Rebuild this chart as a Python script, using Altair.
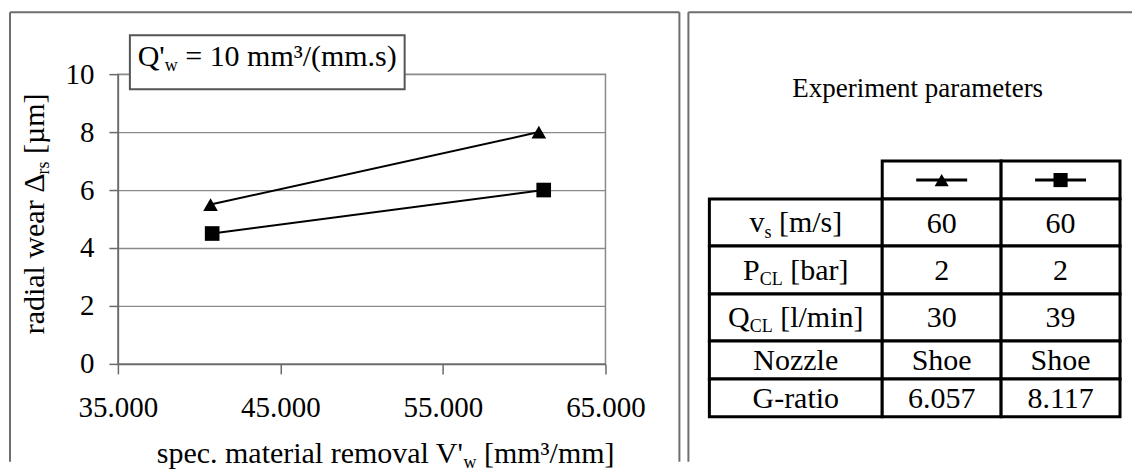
import altair as alt
import pandas as pd

# ---------------- data ----------------
series_names = ["triangle", "square"]
triangle_removal = [40700, 60900]
triangle_wear = [5.5, 8.0]
square_removal = [40800, 61200]
square_wear = [4.5, 6.0]

x_tick_values = [35000, 45000, 55000, 65000]
y_tick_values = [0, 2, 4, 6, 8, 10]

table_title = "Experiment parameters"
param_labels = [
    [("v", "n"), ("s", "sub"), (" [m/s]", "n")],
    [("P", "n"), ("CL", "sub"), (" [bar]", "n")],
    [("Q", "n"), ("CL", "sub"), (" [l/min]", "n")],
    [("Nozzle", "n")],
    [("G-ratio", "n")],
]
triangle_params = ["60", "2", "30", "Shoe", "6.057"]
square_params = ["60", "2", "39", "Shoe", "8.117"]

annotation_text = [("Q'", "n"), ("w", "sub"), (" = 10 mm³/(mm.s)", "n")]
x_title_text = [("spec. material removal V'", "n"), ("w", "sub"), (" [mm³/mm]", "n")]
y_title_text = [("radial wear Δ", "n"), ("rs", "sub"), (" [µm]", "n")]

# ---------------- style ----------------
FONT = "Liberation Serif"
PLOT_W, PLOT_H = 488, 290
GRID = "#8a8a8a"
AXIS = "#6a6a6a"
FRAME = "#6e6e6e"
COL_W = [173, 119, 119]
ROW_H = [38, 47, 48, 47, 38, 38]
TABLE_W = sum(COL_W)
TABLE_H = sum(ROW_H)
TABLE_OFF = 87  # table top sits this far below the chart's plot top

# Times / Liberation Serif advance widths (1/1000 em)
CHAR_W = {" ": 250, "'": 180, "(": 333, ")": 333, ".": 250, "/": 278, "-": 333,
          "=": 564, "[": 333, "]": 333, "µ": 500, "Δ": 612, "³": 300}
for d in "0123456789":
    CHAR_W[d] = 500
CHAR_W.update(dict(zip("abcdefghijklmnopqrstuvwxyz",
    [444, 500, 444, 500, 444, 333, 500, 500, 278, 278, 500, 278, 778, 500, 500,
     500, 500, 333, 389, 278, 500, 500, 722, 500, 500, 444])))
CHAR_W.update(dict(zip("ABCDEFGHIJKLMNOPQRSTUVWXYZ",
    [722, 667, 667, 722, 611, 556, 722, 722, 333, 389, 722, 611, 889, 722, 722,
     556, 722, 667, 556, 611, 722, 722, 944, 722, 722, 611])))


def text_width(s, size):
    return sum(CHAR_W.get(ch, 500) for ch in s) / 1000.0 * size


one = pd.DataFrame({"k": [0]})


def rich_text_layers(segments, size, data, x, y, angle=0):
    parts = []
    for txt, kind in segments:
        if kind == "sub":
            s, shift = size * 0.6, size * 0.17
        else:
            s, shift = size, 0.0
        parts.append((txt, s, shift, text_width(txt, s)))
    total = sum(p[3] for p in parts)
    off = -total / 2
    layers = []
    for txt, s, shift, w in parts:
        stripped = txt.lstrip(" ")
        lead = text_width(txt[: len(txt) - len(stripped)], s)
        layers.append(
            alt.Chart(data).mark_text(
                text=stripped, font=FONT, fontSize=s, align="left",
                baseline="alphabetic", dx=off + lead, dy=0.33 * size + shift,
                angle=angle, color="black",
            ).encode(x=x, y=y)
        )
        off += w
    return layers


def hrule(x1, x2, y, color, width):
    return alt.Chart(one).mark_rule(color=color, strokeWidth=width).encode(
        x=alt.value(x1), x2=alt.value(x2), y=alt.value(y))


def vrule(x, y1, y2, color, width):
    return alt.Chart(one).mark_rule(color=color, strokeWidth=width).encode(
        x=alt.value(x), y=alt.value(y1), y2=alt.value(y2))


# ---------------- left panel: wear chart ----------------
df = pd.DataFrame({
    "series": [series_names[0]] * len(triangle_removal) + [series_names[1]] * len(square_removal),
    "removal": triangle_removal + square_removal,
    "wear": triangle_wear + square_wear,
})

x_enc = alt.X("removal:Q",
              scale=alt.Scale(domain=[35000, 65000], nice=False, zero=False),
              axis=alt.Axis(values=x_tick_values, title=None, grid=False,
                            labelExpr="replace(format(datum.value, ','), ',', '.')",
                            labelFont=FONT, labelFontSize=29, labelColor="black",
                            labelPadding=20, labelFlush=False, labelOverlap=False,
                            tickSize=10, tickColor=AXIS, tickWidth=1.5,
                            domainColor=AXIS, domainWidth=1.5))
y_enc = alt.Y("wear:Q",
              scale=alt.Scale(domain=[0, 10], nice=False),
              axis=alt.Axis(values=y_tick_values, title=None, grid=True,
                            gridColor=GRID, gridWidth=1.3,
                            labelFont=FONT, labelFontSize=29, labelColor="black",
                            labelPadding=15, labelFlush=False, labelOverlap=False,
                            tickSize=9, tickColor=AXIS, tickWidth=1.5,
                            domainColor=AXIS, domainWidth=1.5))

lines = alt.Chart(df).mark_line(color="black", strokeWidth=2).encode(
    x=x_enc, y=y_enc, detail="series:N")
points = alt.Chart(df).mark_point(filled=True, color="black", opacity=1, size=215).encode(
    x=x_enc, y=y_enc,
    shape=alt.Shape("series:N", scale=alt.Scale(domain=series_names,
                                                range=["triangle-up", "square"]),
                    legend=None))

box = alt.Chart(one).mark_rect(fill="white", stroke="#555555", strokeWidth=2).encode(
    x=alt.value(12), x2=alt.value(287), y=alt.value(-39), y2=alt.value(15))

left_layers = [
    hrule(-108, 562, -62, FRAME, 2),
    vrule(-108, -62, 388, FRAME, 2),
    vrule(562, -62, 388, FRAME, 2),
    lines, points, box,
]
left_layers += rich_text_layers(annotation_text, 30, one, alt.value(149.5), alt.value(-18))
left_layers += rich_text_layers(x_title_text, 30, one, alt.value(268), alt.value(379))
left_layers += rich_text_layers(y_title_text, 30, one, alt.value(-84), alt.value(141), angle=270)

left = alt.layer(*left_layers).properties(
    width=PLOT_W, height=PLOT_H,
    view=alt.ViewBackground(stroke=GRID, strokeWidth=1.5))

# ---------------- right panel: parameter table ----------------
col_edges = [sum(COL_W[:i]) for i in range(len(COL_W) + 1)]
row_edges = [sum(ROW_H[:i]) for i in range(len(ROW_H) + 1)]
columns = [None, triangle_params, square_params]

cells = []
for r in range(len(ROW_H)):
    for c in range(3):
        if r == 0 and c == 0:
            continue
        val = ""
        if r > 0 and c > 0:
            val = columns[c][r - 1]
        cells.append(dict(r=r, c=c,
                          x0=col_edges[c], x1=col_edges[c + 1],
                          y0=row_edges[r], y1=row_edges[r + 1],
                          xc=(col_edges[c] + col_edges[c + 1]) / 2,
                          yc=(row_edges[r] + row_edges[r + 1]) / 2,
                          val=val,
                          series=series_names[c - 1] if (r == 0 and c > 0) else ""))
tdf = pd.DataFrame(cells)

tx = alt.Scale(domain=[0, TABLE_W], nice=False, zero=False)
ty = alt.Scale(domain=[-TABLE_OFF, TABLE_H], nice=False, zero=False, reverse=True)


def X(f):
    return alt.X(f, scale=tx, axis=None)


def Y(f):
    return alt.Y(f, scale=ty, axis=None)


rects = alt.Chart(tdf).mark_rect(fill="white", stroke="black", strokeWidth=3).encode(
    x=X("x0:Q"), x2="x1:Q", y=Y("y0:Q"), y2="y1:Q")

values = alt.Chart(tdf).transform_filter("datum.r > 0 && datum.c > 0").mark_text(
    font=FONT, fontSize=30, color="black", baseline="alphabetic", dy=10).encode(
    x=X("xc:Q"), y=Y("yc:Q"), text="val:N")

hdr = alt.Chart(tdf).transform_filter("datum.r == 0").transform_calculate(
    xa="datum.xc - 25.5", xb="datum.xc + 25.5")
sym_lines = hdr.mark_rule(color="black", strokeWidth=3).encode(
    x=X("xa:Q"), x2="xb:Q", y=Y("yc:Q"))
sym_points = hdr.mark_point(filled=True, color="black", opacity=1, size=200).encode(
    x=X("xc:Q"), y=Y("yc:Q"),
    shape=alt.Shape("series:N", scale=alt.Scale(domain=series_names,
                                                range=["triangle-up", "square"]),
                    legend=None))

right_layers = [
    hrule(-21, 423, -62, FRAME, 2),
    vrule(-21, -62, 388, FRAME, 2),
    alt.Chart(one).mark_text(text=table_title, font=FONT, fontSize=27, color="black",
                             baseline="alphabetic", dy=9).encode(
        x=alt.value(TABLE_W / 2 + 3), y=alt.value(14)),
    rects, values, sym_lines, sym_points,
]
for i, segs in enumerate(param_labels):
    row_df = tdf[(tdf.r == i + 1) & (tdf.c == 0)]
    right_layers += rich_text_layers(segs, 30, row_df, X("xc:Q"), Y("yc:Q"))

right = alt.layer(*right_layers).properties(width=TABLE_W, height=TABLE_OFF + TABLE_H)

chart = alt.hconcat(left, right, spacing=6).properties(
    padding={"left": 0, "top": 2, "right": 0, "bottom": 0},
    background="white",
).configure_view(stroke=None)

chart.save("out.html", embed_options={"renderer": "svg", "actions": False})
